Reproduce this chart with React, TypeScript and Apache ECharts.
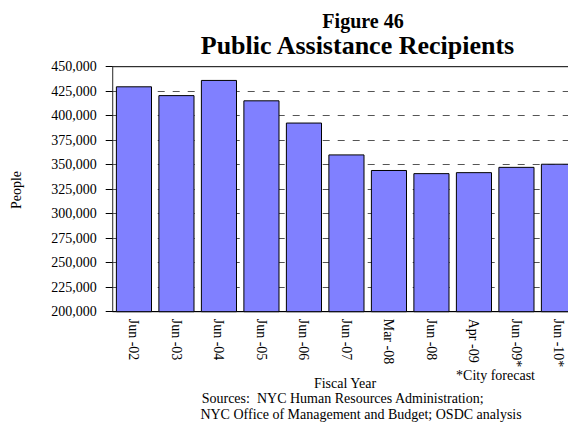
import { useEffect, useRef } from "react";
import * as echarts from "echarts";

const categories = [
  "Jun -02", "Jun -03", "Jun -04", "Jun -05", "Jun -06", "Jun -07",
  "Mar -08", "Jun -08", "Apr -09", "Jun -09*", "Jun -10*",
];
const recipients = [
  430000, 421000, 436500, 415700, 393000, 360500,
  344600, 341400, 342400, 347800, 351000,
];
const yMin = 200000;
const yMax = 450000;
const yInterval = 25000;

const FONT = "'Liberation Serif', 'Times New Roman', Times, serif";

export default function App() {
  const ref = useRef<HTMLDivElement>(null);
  useEffect(() => {
    if (!ref.current) return;
    const chart = echarts.init(ref.current, undefined, { renderer: "svg" });
    chart.setOption({
      animation: false,
      backgroundColor: "#ffffff",
      textStyle: { fontFamily: FONT },
      grid: {
        left: 112.7,
        right: -12.2,
        top: 66.7,
        bottom: 110.3,
        show: true,
        borderColor: "#000",
        borderWidth: 1,
        backgroundColor: "transparent",
        containLabel: false,
        outerBoundsMode: "none",
      },
      xAxis: {
        type: "category",
        data: categories,
        axisLine: { show: true, lineStyle: { color: "#000", width: 1 } },
        axisTick: { show: false },
        axisLabel: {
          rotate: -90,
          margin: 7,
          fontSize: 14,
          color: "#000",
          fontFamily: FONT,
          interval: 0,
        },
        splitLine: { show: false },
      },
      yAxis: {
        type: "value",
        min: yMin,
        max: yMax,
        interval: yInterval,
        axisLine: { show: true, lineStyle: { color: "#555", width: 1 } },
        axisTick: { show: true, inside: false, length: 7, lineStyle: { color: "#000" } },
        axisLabel: {
          margin: 16,
          fontSize: 14,
          color: "#000",
          fontFamily: FONT,
          formatter: (v: number) => v.toLocaleString("en-US"),
        },
        splitLine: {
          show: true,
          showMinLine: false,
          showMaxLine: false,
          lineStyle: { color: "#555", width: 1, type: [7, 8] },
        },
      },
      series: [
        {
          type: "bar",
          data: recipients,
          barCategoryGap: "15%",
          itemStyle: { color: "#8080ff", borderColor: "#000", borderWidth: 1 },
        },
      ],
      graphic: [
        {
          type: "text",
          x: 363,
          y: 20.5,
          style: {
            text: "Figure 46",
            font: `bold 20px ${FONT}`,
            fill: "#000",
            align: "center",
            verticalAlign: "middle",
          },
        },
        {
          type: "text",
          x: 357.5,
          y: 45.2,
          style: {
            text: "Public Assistance Recipients",
            font: `bold 26px ${FONT}`,
            fill: "#000",
            align: "center",
            verticalAlign: "middle",
          },
        },
        {
          type: "text",
          x: 16,
          y: 190,
          rotation: Math.PI / 2,
          style: {
            text: "People",
            font: `14px ${FONT}`,
            fill: "#000",
            align: "center",
            verticalAlign: "middle",
          },
        },
        {
          type: "text",
          x: 345,
          y: 383.2,
          style: {
            text: "Fiscal Year",
            font: `14px ${FONT}`,
            fill: "#000",
            align: "center",
            verticalAlign: "middle",
          },
        },
        {
          type: "text",
          x: 495.5,
          y: 375.2,
          style: {
            text: "*City forecast",
            font: `14px ${FONT}`,
            fill: "#000",
            align: "center",
            verticalAlign: "middle",
          },
        },
        {
          type: "text",
          x: 201.7,
          y: 398.5,
          style: {
            text: "Sources:  NYC Human Resources Administration;",
            font: `14px ${FONT}`,
            fill: "#000",
            align: "left",
            verticalAlign: "middle",
            whiteSpace: "pre",
          },
        },
        {
          type: "text",
          x: 521.7,
          y: 414.5,
          style: {
            text: "NYC Office of Management and Budget; OSDC analysis",
            font: `14px ${FONT}`,
            fill: "#000",
            align: "right",
            verticalAlign: "middle",
          },
        },
      ],
    });
    return () => chart.dispose();
  }, []);
  return (
    <div
      ref={ref}
      style={{ position: "fixed", left: 0, top: 0, width: 568, height: 422 }}
    />
  );
}
